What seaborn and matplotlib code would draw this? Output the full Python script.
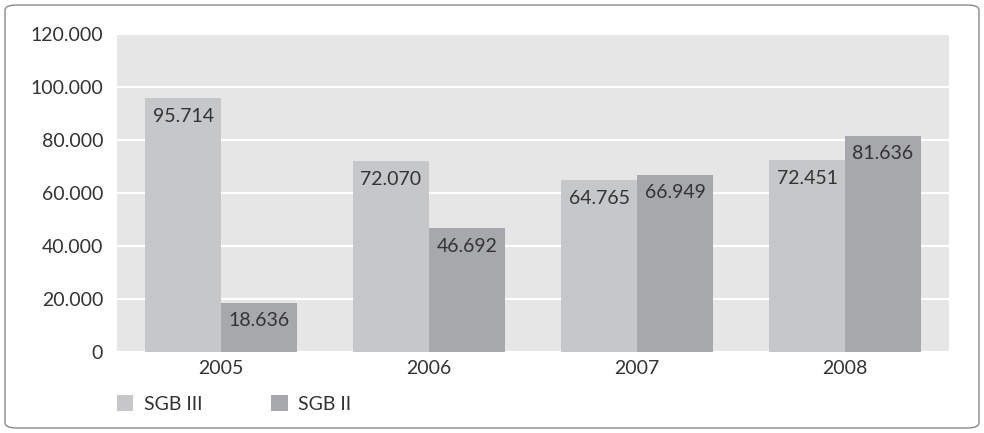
import matplotlib
matplotlib.use("Agg")
import matplotlib.pyplot as plt
from matplotlib.patches import FancyBboxPatch, Patch
import seaborn as sns
import pandas as pd

years = ["2005", "2006", "2007", "2008"]
sgb3 = [95714, 72070, 64765, 72451]
sgb2 = [18636, 46692, 66949, 81636]
series_names = ["SGB III", "SGB II"]
colors = ["#c6c7c9", "#a7a8ab"]
yticks = [0, 20000, 40000, 60000, 80000, 100000, 120000]

df = pd.DataFrame({
    "Jahr": years * 2,
    "Wert": sgb3 + sgb2,
    "Reihe": [series_names[0]] * 4 + [series_names[1]] * 4,
})

sns.set_theme(style="white")
plt.rcParams["font.family"] = ["Lato", "DejaVu Sans"]

fig = plt.figure(figsize=(9.84, 4.33), dpi=100)
ax = fig.add_axes([117 / 984, 1 - 352 / 433, (949 - 117) / 984, (352 - 34) / 433])

border = FancyBboxPatch((5 / 984, 5 / 433), 974 / 984, 423 / 433,
                        boxstyle="round,pad=0,rounding_size=0.012",
                        transform=fig.transFigure, facecolor="white",
                        edgecolor="#8a8a8a", linewidth=1.0, zorder=-10)
fig.patches.append(border)

sns.barplot(data=df, x="Jahr", y="Wert", hue="Reihe", palette=colors,
            width=0.73, gap=0, ax=ax, legend=False, saturation=1,
            edgecolor="none", linewidth=0)

ax.set_facecolor("#e6e6e6")
ax.set_ylim(0, 120000)
ax.set_yticks(yticks)
ax.set_yticklabels([f"{v:,}".replace(",", ".") for v in yticks])
ax.yaxis.grid(True, color="white", linewidth=1.6)
ax.set_axisbelow(True)
for s in ax.spines.values():
    s.set_visible(False)
ax.set_xlabel("")
ax.set_ylabel("")
ax.tick_params(axis="both", length=0, labelsize=14, colors="#333333")
ax.tick_params(axis="y", pad=10)
ax.tick_params(axis="x", pad=6)

for cont in ax.containers:
    for bar in cont:
        h = bar.get_height()
        ax.annotate(f"{int(h):,}".replace(",", "."),
                    (bar.get_x() + bar.get_width() / 2, h),
                    xytext=(0, -7), textcoords="offset points",
                    ha="center", va="top", fontsize=14, color="#333333")

handles = [Patch(facecolor=c, edgecolor="none") for c in colors]
fig.legend(handles, series_names, loc="center left",
           bbox_to_anchor=(99 / 984, 1 - 404 / 433), ncol=2, frameon=False,
           fontsize=14, handlelength=0.85, handleheight=0.85, handletextpad=0.55,
           columnspacing=3.55, labelcolor="#333333")

fig.savefig("out.png", dpi=100)
